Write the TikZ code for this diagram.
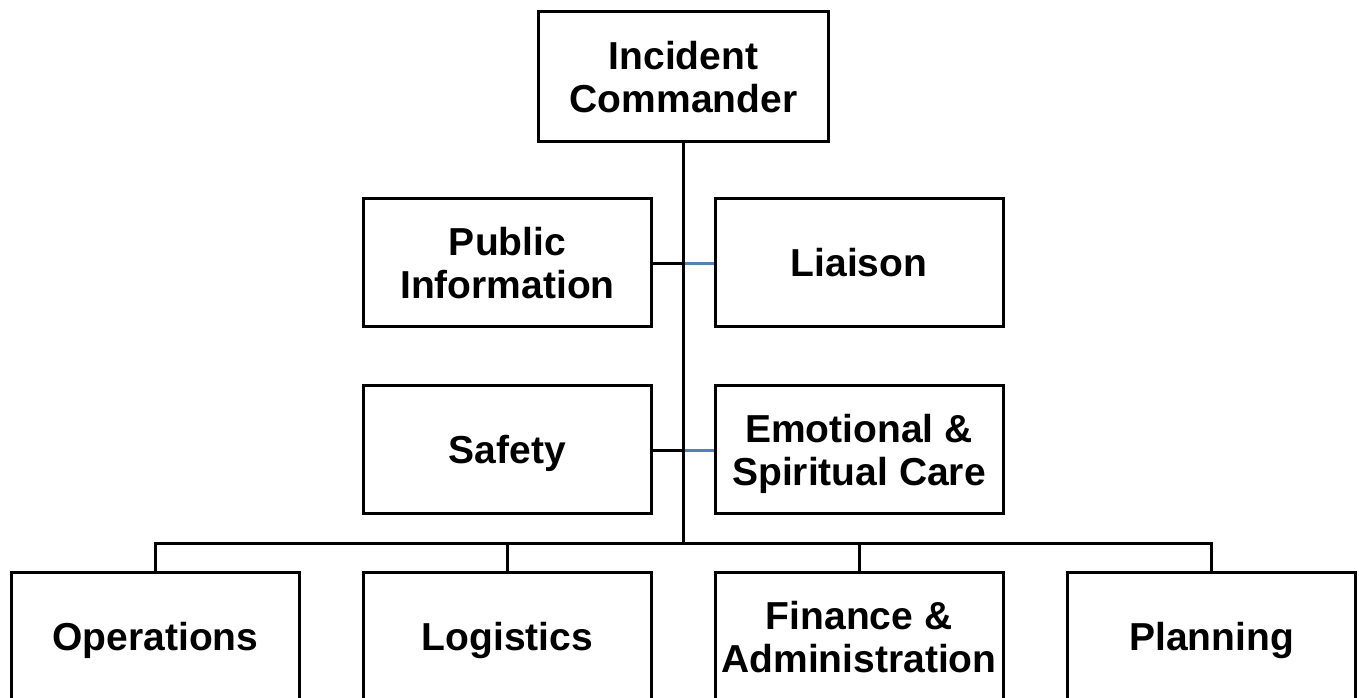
\documentclass[tikz,border=0pt]{standalone}
\usepackage{fontspec}
\setmainfont{Liberation Sans}
\begin{document}
\begin{tikzpicture}[x=1pt,y=-1pt,
  orgbox/.style={draw=black, line width=3pt, fill=white, rectangle,
    minimum width=288pt, minimum height=128pt, inner sep=0pt, align=center,
    text depth=0pt, font=\bfseries\fontsize{39}{43}\selectfont},
  link/.style={draw=black, line width=3pt},
  bluelink/.style={draw=staffblue, line width=3pt}]
\definecolor{staffblue}{RGB}{79,129,189}
\useasboundingbox (0,0) rectangle (1359,698);
\clip (0,0) rectangle (1359,698);
\fill[white] (0,0) rectangle (1359,698);

% command staff and sections
\node[orgbox, minimum width=290pt, minimum height=130pt] (ic) at (683.5,76.5) {Incident\\Commander};
\node[orgbox] (pio) at (507.5,262.5) {Public\\Information};
\node[orgbox] (lia) at (859,262.5) {Liaison};
\node[orgbox] (saf) at (507.5,449.5) {Safety};
\node[orgbox] (esc) at (859,449.5) {Emotional \&\\Spiritual Care};
\node[orgbox] (ops) at (155.5,636.5) {Operations};
\node[orgbox] (log) at (507.5,636.5) {Logistics};
\node[orgbox] (fin) at (859,636.5) {Finance \&\\Administration};
\node[orgbox] (pla) at (1211.5,636.5) {Planning};

% trunk and bus
\coordinate (bus) at (683,543);
\coordinate (pioj) at (683,263);
\coordinate (safj) at (683,450);
\draw[link] (ic.south -| bus) -- (bus);
\draw[link] (pio.east |- pioj) -- (pioj);
\draw[link] (saf.east |- safj) -- (safj);
\draw[bluelink] ([xshift=1.5pt]pioj) -- (lia.west |- pioj);
\draw[bluelink] ([xshift=1.5pt]safj) -- (esc.west |- safj);
\draw[link] (ops.north) -- (ops.north |- bus) -- (pla.north |- bus) -- (pla.north);
\draw[link] (log.north) -- (log.north |- bus);
\draw[link] (fin.north) -- (fin.north |- bus);
\end{tikzpicture}
\end{document}
